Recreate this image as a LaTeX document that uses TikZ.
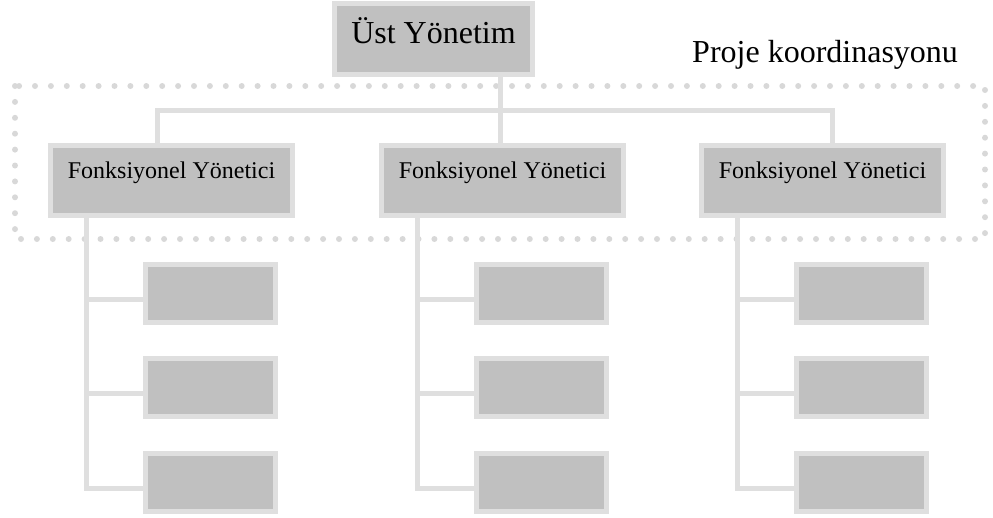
\documentclass[tikz,border=0pt]{standalone}
\usepackage{fontspec}
\setmainfont{Liberation Serif}
\usetikzlibrary{calc, positioning}
\definecolor{box_fill}{HTML}{C0C0C0}
\definecolor{box_edge}{HTML}{DFDFDF}
\definecolor{dot_grey}{HTML}{D8D8D8}
\tikzset{
  unitbox/.style={draw=box_edge, fill=box_fill, line width=5pt, inner sep=0pt},
  headbox/.style={unitbox, minimum width=242pt, minimum height=70pt, font=\fontsize{24}{28}\selectfont, text height=17pt, text depth=22pt},
  subbox/.style={unitbox, minimum width=130pt, minimum height=58pt},
  link/.style={draw=box_edge, line width=5pt}
}
\begin{document}
\begin{tikzpicture}[x=1pt, y=-1pt]
  \useasboundingbox (0,0) rectangle (993,517);
  % project coordination frame
  \draw[dot_grey, line width=6pt, line cap=round, dash pattern=on 0pt off 15.9pt] (15,86) rectangle (985,239);
  \node[anchor=base west, inner sep=0pt, font=\fontsize{32}{36}\selectfont] (coord_label) at (692,62) {Proje koordinasyonu};
  % boxes
  \node[unitbox, minimum width=198pt, minimum height=71pt, font=\fontsize{32}{36}\selectfont, text height=22pt, text depth=13pt] (top) at (433.5,38.5) {Üst Yönetim};
  \node[headbox] (fy1) at (171.5,180.5) {Fonksiyonel Yönetici};
  \node[headbox] (fy2) at (502.5,180.5) {Fonksiyonel Yönetici};
  \node[headbox] (fy3) at (822.5,180.5) {Fonksiyonel Yönetici};
  \foreach \c/\x in {1/210.5, 2/541.5, 3/861.5}
    \foreach \r/\y in {1/293.5, 2/387.5, 3/482.5}
      \node[subbox] (s\c\r) at (\x,\y) {};
  % links
  \coordinate (hub) at (500,110);
  \coordinate (bus_l) at (157,110);
  \coordinate (bus_r) at (832,110);
  \draw[link] (top.south -| hub) -- (fy2.north -| hub);
  \draw[link] (fy1.north -| bus_l) -- (bus_l) -- (bus_r) -- (fy3.north -| bus_r);
  \foreach \c/\dx in {1/86, 2/417, 3/737} {
    \coordinate (d\c) at (\dx,0);
    \draw[link] (fy\c.south -| d\c) |- ([yshift=-6pt]s\c3.west);
    \foreach \r in {1,2}
      \draw[link] ([yshift=-6pt]s\c\r.west -| d\c) -- ([yshift=-6pt]s\c\r.west);
  }
\end{tikzpicture}
\end{document}
